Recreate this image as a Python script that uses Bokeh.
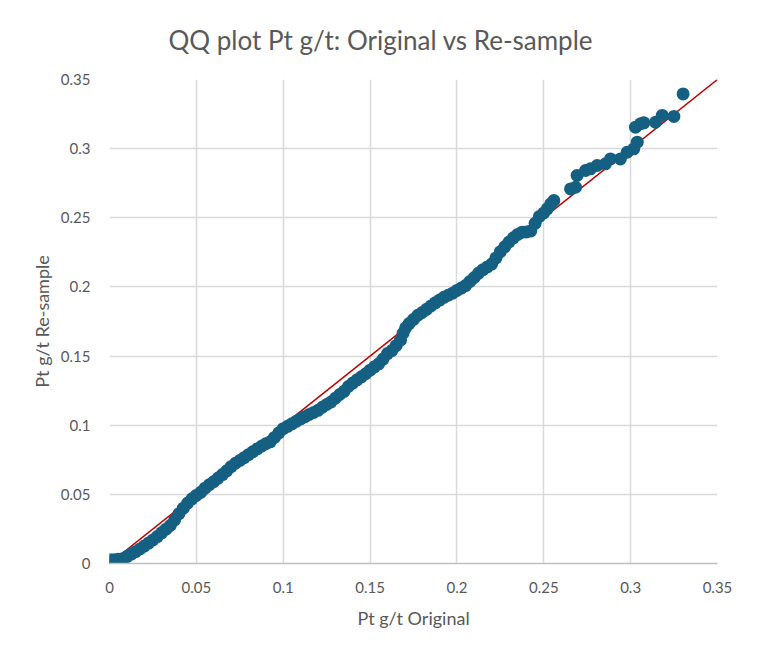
from bokeh.models import ColumnDataSource, FixedTicker, Title
from bokeh.plotting import figure
from bokeh.embed import file_html
from bokeh.resources import INLINE

# quantiles (Pt g/t), original vs re-sample
original = [
    0.000, 0.0025, 0.005, 0.0075, 0.010, 0.0125, 0.015, 0.0175, 0.020, 0.0225,
    0.025, 0.0275, 0.030, 0.0325, 0.035, 0.0375, 0.040, 0.0425, 0.045, 0.0475,
    0.050, 0.0525, 0.055, 0.0575, 0.060, 0.0625, 0.065, 0.0675, 0.070, 0.0725,
    0.075, 0.0775, 0.080, 0.0825, 0.085, 0.0875, 0.090, 0.0925, 0.095, 0.0975,
    0.100, 0.1025, 0.105, 0.1075, 0.110, 0.1125, 0.115, 0.1175, 0.120, 0.1225,
    0.125, 0.1275, 0.130, 0.1325, 0.135, 0.1375, 0.140, 0.1425, 0.145, 0.1475,
    0.150, 0.1525, 0.155, 0.1575, 0.160, 0.1625, 0.165, 0.1675, 0.169, 0.1705,
    0.1725, 0.175, 0.1775, 0.180, 0.1825, 0.185, 0.1875, 0.190, 0.1925, 0.195,
    0.1975, 0.200, 0.2025, 0.205, 0.2075, 0.210, 0.2125, 0.215, 0.2175, 0.220,
    0.2225, 0.225, 0.2275, 0.230, 0.2325, 0.235, 0.2375, 0.240, 0.2425, 0.245,
    0.2475, 0.250, 0.252, 0.254, 0.2558,
    0.2654, 0.2683, 0.2692, 0.274, 0.2769, 0.2807, 0.2855, 0.2884, 0.2941, 0.298,
    0.3018, 0.3038, 0.3028, 0.3057, 0.3076, 0.3143, 0.3182, 0.3249, 0.3302,
]
resample = [
    0.0027, 0.0028, 0.0030, 0.0035, 0.0050, 0.0068, 0.0085, 0.0105, 0.0126, 0.0148,
    0.0170, 0.0195, 0.0222, 0.0248, 0.0275, 0.0315, 0.0360, 0.0400, 0.0437, 0.0468,
    0.0492, 0.0515, 0.0545, 0.0570, 0.0592, 0.0618, 0.0643, 0.0670, 0.0700, 0.0725,
    0.0745, 0.0765, 0.0787, 0.0808, 0.0828, 0.0848, 0.0866, 0.0880, 0.0912, 0.0945,
    0.0975, 0.0992, 0.1010, 0.1028, 0.1046, 0.1062, 0.1078, 0.1092, 0.1108, 0.1130,
    0.1150, 0.1168, 0.1195, 0.1222, 0.1245, 0.1280, 0.1305, 0.1328, 0.1350, 0.1372,
    0.1398, 0.1422, 0.1444, 0.1478, 0.1518, 0.1540, 0.1575, 0.1615, 0.1665, 0.1705,
    0.1735, 0.1765, 0.1795, 0.1815, 0.1838, 0.1862, 0.1885, 0.1905, 0.1925, 0.1940,
    0.1955, 0.1975, 0.1992, 0.2010, 0.2040, 0.2068, 0.2100, 0.2125, 0.2145, 0.2165,
    0.2210, 0.2255, 0.2290, 0.2325, 0.2355, 0.2380, 0.2396, 0.2398, 0.2405, 0.2460,
    0.2510, 0.2535, 0.2565, 0.2600, 0.2625,
    0.2709, 0.2721, 0.2806, 0.2842, 0.2854, 0.2878, 0.2890, 0.2926, 0.2926, 0.2974,
    0.2999, 0.3047, 0.3155, 0.3180, 0.3187, 0.3191, 0.3240, 0.3233, 0.3396,
]

# 1:1 reference line and the hidden origin point
ref_x = [0.0, 0.35]
ref_y = [0.0, 0.35]
origin_x = [0.0]
origin_y = [0.0]

tick_values = [0.0, 0.05, 0.1, 0.15, 0.2, 0.25, 0.3, 0.35]
tick_labels = ["0", "0.05", "0.1", "0.15", "0.2", "0.25", "0.3", "0.35"]

FONT = "Lato"
TEXT = "#595959"

p = figure(width=750, height=649, x_range=(0, 0.35), y_range=(0, 0.35),
           output_backend="svg", toolbar_location=None, title=None,
           min_border_left=109, min_border_right=33,
           min_border_top=79, min_border_bottom=86)

p.add_layout(Title(text="QQ plot Pt g/t: Original vs Re-sample", align="left",
                   vertical_align="top", offset=59, standoff=44,
                   text_font=FONT, text_font_size="26px",
                   text_font_style="normal", text_color=TEXT), "above")

p.line(ref_x, ref_y, line_color="#C00000", line_width=1.5)
p.scatter(origin_x, origin_y, size=12, fill_color="#E97132", line_color=None)

src = ColumnDataSource(data=dict(x=original, y=resample))
p.scatter("x", "y", source=src, size=13, fill_color="#156082", line_color=None)

for ax in (p.xaxis[0], p.yaxis[0]):
    ax.ticker = FixedTicker(ticks=tick_values)
    ax.major_label_overrides = dict(zip(tick_values, tick_labels))
    ax.major_tick_in = 0
    ax.major_tick_out = 0
    ax.minor_tick_in = 0
    ax.minor_tick_out = 0
    ax.major_label_text_font = FONT
    ax.major_label_text_font_size = "15px"
    ax.major_label_text_color = TEXT
    ax.axis_label_text_font = FONT
    ax.axis_label_text_font_size = "18px"
    ax.axis_label_text_font_style = "normal"
    ax.axis_label_text_color = TEXT

p.xaxis.axis_label = "Pt g/t Original"
p.yaxis.axis_label = "Pt g/t Re-sample"
p.xaxis.axis_line_color = "#BFBFBF"
p.xaxis.axis_line_width = 1.5
p.yaxis.axis_line_color = None
p.xaxis.major_label_standoff = 18
p.yaxis.major_label_standoff = 19
p.xaxis.axis_label_standoff = 11
p.yaxis.axis_label_standoff = 5

p.xgrid.ticker = FixedTicker(ticks=tick_values)
p.ygrid.ticker = FixedTicker(ticks=tick_values)
p.grid.grid_line_color = "#D9D9D9"
p.grid.grid_line_width = 1.5
p.outline_line_color = None
p.background_fill_color = "white"
p.border_fill_color = "white"

open("out.html", "w").write(file_html(p, INLINE))
